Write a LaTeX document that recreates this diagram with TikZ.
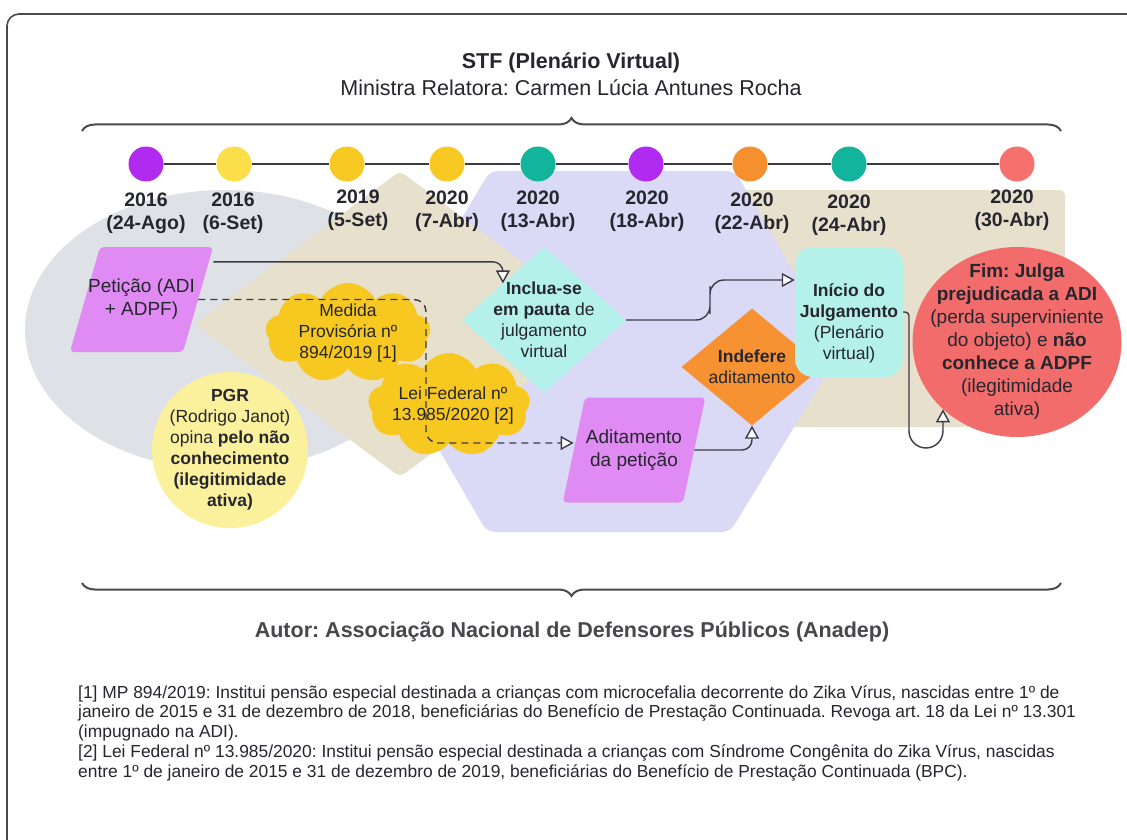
\documentclass[tikz,border=0pt]{standalone}
\usepackage{fontspec}
\setmainfont{Liberation Sans}
\frenchspacing
\usetikzlibrary{shapes.geometric, shapes.symbols, arrows.meta, decorations.pathreplacing}

\definecolor{ink}{HTML}{26262E}
\definecolor{lineink}{HTML}{3A3B47}
\definecolor{framegray}{HTML}{4A4A4A}
\definecolor{purpledot}{HTML}{B02BEF}
\definecolor{lightyellow}{HTML}{FCDD4A}
\definecolor{yellowdot}{HTML}{F8C823}
\definecolor{tealdot}{HTML}{12B59C}
\definecolor{orangedot}{HTML}{F6902F}
\definecolor{salmon}{HTML}{F4716E}
\definecolor{greybg}{HTML}{DEE1E6}
\definecolor{beigebg}{HTML}{E7E0CD}
\definecolor{lavenderbg}{HTML}{DAD9F6}
\definecolor{petfill}{HTML}{E08AF4}
\definecolor{cyanfill}{HTML}{B4F1EA}
\definecolor{cloudfill}{HTML}{F7C820}
\definecolor{pgrfill}{HTML}{FBF19C}
\definecolor{indeferefill}{HTML}{F79232}
\definecolor{fimfill}{HTML}{F26C6B}

\tikzset{
	every node/.style={inner sep=0pt, text=ink},
	txt/.style={align=center, font=\fontsize{17.5}{21}\selectfont},
	bigtxt/.style={align=center, font=\fontsize{19}{23}\selectfont},
	datetxt/.style={align=center, font=\fontsize{19.5}{23}\selectfont\bfseries},
	dot/.style={circle, minimum size=35},
	tline/.style={draw=lineink, line width=2.5},
	conn/.style={draw=lineink, line width=1.4, -{Triangle[fill=white, length=13pt, width=14pt]}},
	bracket/.style={draw=framegray, line width=2, decorate, decoration={brace, amplitude=13}},
	parall/.style={trapezium, fill=petfill, inner ysep=52.5, rounded corners=4},
	cloudy/.style={cloud, cloud puffs=9, cloud puff arc=125, aspect=1.6, fill=cloudfill}
}

\begin{document}
\begin{tikzpicture}[x=1pt, y=-1pt]
	\useasboundingbox (0,0) rectangle (1127,840);
	\fill[white] (0,0) rectangle (1127,840);
	\draw[framegray, line width=1.6, rounded corners=12] (7,900) |- (1200,14);

	% background areas
	\fill[greybg] (225,330) ellipse [x radius=200pt, y radius=140pt];
	\fill[beigebg, rounded corners=5] (742,190) rectangle (1065,427);
	\fill[lavenderbg, rounded corners=8] (490,171) -- (735,171) -- (840,352) -- (730,532) -- (487,532) -- (382,352) -- cycle;
	\fill[beigebg, rounded corners=6] (400,171) -- (605,324) -- (400,477) -- (195,324) -- cycle;

	% header
	\node[font=\fontsize{21.5}{25}\selectfont\bfseries] (stf) at (571,63) {STF (Plenário Virtual)};
	\node[font=\fontsize{21.5}{25}\selectfont] (relatora) at (571,88) {Ministra Relatora: Carmen Lúcia Antunes Rocha};
	\draw[bracket] (82,131) -- (1061,131);

	% timeline
	\node[dot, fill=purpledot] (d1) at (146,164) {};
	\node[dot, fill=lightyellow] (d2) at (234,164) {};
	\node[dot, fill=yellowdot] (d3) at (347,164) {};
	\node[dot, fill=yellowdot] (d4) at (447,164) {};
	\node[dot, fill=tealdot] (d5) at (538,164) {};
	\node[dot, fill=purpledot] (d6) at (646,164) {};
	\node[dot, fill=orangedot] (d7) at (750,164) {};
	\node[dot, fill=tealdot] (d8) at (849,164) {};
	\node[dot, fill=salmon] (d9) at (1017,164) {};
	\foreach \a/\b in {d1/d2, d2/d3, d3/d4, d4/d5, d5/d6, d6/d7, d7/d8, d8/d9}
		\draw[tline] (\a) -- (\b);

	\node[datetxt] (t1) at (146,213.5) {2016\\(24-Ago)};
	\node[datetxt] (t2) at (233,213.5) {2016\\(6-Set)};
	\node[datetxt] (t3) at (358,210) {2019\\(5-Set)};
	\node[datetxt] (t4) at (447,211.5) {2020\\(7-Abr)};
	\node[datetxt] (t5) at (538,211.5) {2020\\(13-Abr)};
	\node[datetxt] (t6) at (647,211.5) {2020\\(18-Abr)};
	\node[datetxt] (t7) at (752,213.5) {2020\\(22-Abr)};
	\node[datetxt] (t8) at (849,215) {2020\\(24-Abr)};
	\node[datetxt] (t9) at (1012,210) {2020\\(30-Abr)};

	% steps
	\node[parall, trapezium left angle=74, trapezium right angle=106, inner xsep=41.5,
		label={[bigtxt]center:{Petição (ADI\\+ ADPF)}}] (peticao) at (141.5,299.5) {};
	\node[cloudy, minimum width=165, minimum height=100,
		label={[txt]center:{Medida\\Provisória nº\\894/2019 [1]}}] (mp) at (348,333) {};
	\node[cloudy, minimum width=162, minimum height=104,
		label={[txt, xshift=4]center:{Lei Federal nº\\13.985/2020 [2]}}] (lei) at (449,405) {};
	\node[circle, fill=pgrfill, minimum size=156,
		label={[txt]center:{\textbf{PGR}\\(Rodrigo Janot)\\opina \textbf{pelo não}\\\textbf{conhecimento}\\\textbf{(ilegitimidade}\\\textbf{ativa)}}}] (pgr) at (230,450) {};
	\node[diamond, fill=cyanfill, minimum width=164, minimum height=146,
		label={[txt]center:{\textbf{Inclua-se}\\\textbf{em pauta} de\\julgamento\\virtual}}] (pauta) at (544,320) {};
	\node[parall, trapezium left angle=78, trapezium right angle=102, inner xsep=49,
		label={[bigtxt]center:{Aditamento\\da petição}}] (adit) at (634,450) {};
	\node[diamond, fill=indeferefill, minimum width=141, minimum height=117,
		label={[txt]center:{\textbf{Indefere}\\aditamento}}] (indef) at (752,367) {};
	\node[rectangle, rounded corners=18, fill=cyanfill, minimum width=108, minimum height=130,
		label={[txt, yshift=-11]center:{\textbf{Início do}\\\textbf{Julgamento}\\(Plenário\\virtual)}}] (inicio) at (849,312) {};
	\node[ellipse, fill=fimfill, minimum width=209, minimum height=190,
		label={[bigtxt]center:{\textbf{Fim: Julga}\\\textbf{prejudicada a ADI}\\(perda superviniente\\do objeto) e \textbf{não}\\\textbf{conhece a ADPF}\\(ilegitimidade\\ativa)}}] (fim) at (1017,342) {};

	% connectors
	\draw[conn, rounded corners=10] ([yshift=-15]peticao.top right corner) -| (pauta.north west);
	\draw[conn, dash pattern=on 7pt off 5pt, rounded corners=12] (peticao.east) -| (426,380) |- ([yshift=7]adit.west);
	\draw[conn, rounded corners=14] (pauta.east) -| (710,300) |- ([yshift=32]inicio.west);
	\draw[conn, rounded corners=10] (adit.east) -| (indef.south);
	\draw[conn] (inicio.east) [rounded corners=4] -| (909,380) [rounded corners=17] -- (909,448) -| (fim.south west);

	% footer
	\draw[bracket] (1061,583) -- (82,583);
	\node[font=\fontsize{21.5}{25}\selectfont\bfseries, text=ink!85] (autor) at (572,632) {Autor: Associação Nacional de Defensores Públicos (Anadep)};
	\node[anchor=north west, align=left, font=\fontsize{17.4}{19.8}\selectfont] (notas) at (78,685)
		{[1] MP 894/2019: Institui pensão especial destinada a crianças com microcefalia decorrente do Zika Vírus, nascidas entre 1º de\\
		janeiro de 2015 e 31 de dezembro de 2018, beneficiárias do Benefício de Prestação Continuada. Revoga art. 18 da Lei nº 13.301\\
		(impugnado na ADI).\\
		{[2]} Lei Federal nº 13.985/2020: Institui pensão especial destinada a crianças com Síndrome Congênita do Zika Vírus, nascidas\\
		entre 1º de janeiro de 2015 e 31 de dezembro de 2019, beneficiárias do Benefício de Prestação Continuada (BPC).};
\end{tikzpicture}
\end{document}
